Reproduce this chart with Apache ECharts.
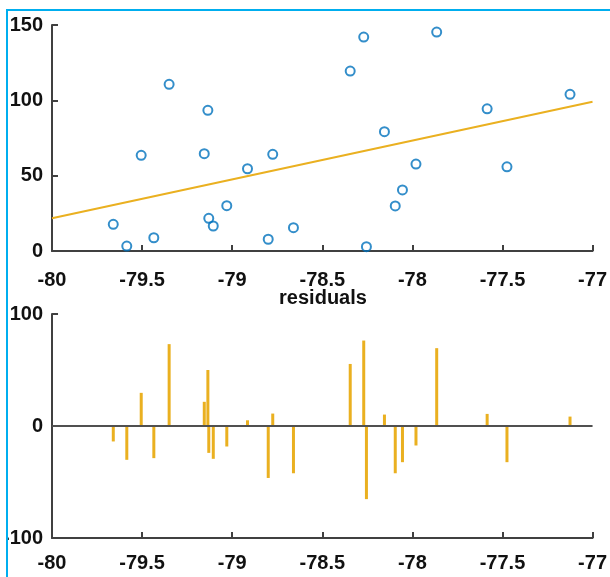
<!DOCTYPE html>
<html>
<head>
<meta charset="utf-8">
<title>Fit and residuals</title>
<script src="https://cdn.jsdelivr.net/npm/echarts@6/dist/echarts.min.js"></script>
<style>
  html, body { margin: 0; padding: 0; background: #fff; }
  #page { position: relative; width: 610px; height: 577px; overflow: hidden; }
  #frame {
    position: absolute; left: 6px; top: 9px; right: 0; bottom: 0;
    border-top: 2px solid #00AEEF; border-left: 2px solid #00AEEF;
    overflow: hidden;
  }
  #chart { position: absolute; left: -8px; top: -11px; width: 610px; height: 577px; }
</style>
</head>
<body>
<div id="page">
  <div id="frame"><div id="chart"></div></div>
</div>
<script>
// Observations (longitude vs. value)
const xValues = [-79.66, -79.585, -79.505, -79.435, -79.35, -79.155, -79.135, -79.13, -79.105, -79.03,
                 -78.915, -78.80, -78.775, -78.66, -78.345, -78.27, -78.255, -78.155, -78.095, -78.055,
                 -77.98, -77.865, -77.585, -77.475, -77.125];
const yValues = [17.7, 3.3, 63.5, 8.8, 110.6, 64.6, 93.4, 21.7, 16.6, 30.1,
                 54.6, 7.8, 64.2, 15.5, 119.4, 142.0, 2.9, 79.2, 29.9, 40.5,
                 57.7, 145.3, 94.4, 55.9, 104.0];
// Residuals of each observation from the fitted line
const residuals = [-13.8, -30.2, 29.6, -28.7, 73.1, 21.6, 50.0, -24.0, -29.3, -18.3,
                   5.1, -46.4, 11.1, -42.2, 55.4, 76.3, -65.3, 10.2, -42.2, -32.3,
                   -17.4, 69.5, 10.8, -32.3, 8.4];
// Fitted line end points
const fitX = [-80, -77];
const fitY = [21.7, 99.1];

const AXIS = '#404040';
const FONT = "'Liberation Sans', Arial, sans-serif";
const BLUE = '#0072BD';
const GOLD = '#EAB020';

const scatterData = xValues.map((x, i) => [x, yValues[i]]);
const fitData = fitX.map((x, i) => [x, fitY[i]]);
const stemData = xValues.map((x, i) => [x, residuals[i]]);

function xAxisCfg(gridIndex, margin) {
  return {
    type: 'value', gridIndex, min: -80, max: -77, interval: 0.5,
    axisLine: { onZero: false, lineStyle: { color: AXIS, width: 2 } },
    axisTick: { inside: true, length: 6, lineStyle: { color: AXIS, width: 2 } },
    axisLabel: { margin, fontFamily: FONT, fontWeight: 'bold', fontSize: 20, color: '#111' },
    splitLine: { show: false }
  };
}
function yAxisCfg(gridIndex, min, max, interval) {
  return {
    type: 'value', gridIndex, min, max, interval,
    axisLine: { show: true, onZero: false, lineStyle: { color: AXIS, width: 2 } },
    axisTick: { show: true, inside: true, length: 6, lineStyle: { color: AXIS, width: 2 } },
    axisLabel: { margin: 9, fontFamily: FONT, fontWeight: 'bold', fontSize: 20, color: '#111',
                 padding: [4, 0, 0, 0] },
    splitLine: { show: false }
  };
}

const chart = echarts.init(document.getElementById('chart'), null, { renderer: 'canvas' });
chart.setOption({
  animation: false,
  backgroundColor: '#fff',
  grid: [
    { left: 52, right: 15, top: 25, height: 226 },
    { left: 52, right: 15, top: 314, height: 224 }
  ],
  xAxis: [xAxisCfg(0, 19), xAxisCfg(1, 15)],
  yAxis: [yAxisCfg(0, 0, 150, 50), yAxisCfg(1, -100, 100, 100)],
  graphic: [{
    type: 'text', x: 323, y: 298,
    style: { text: 'residuals', fontFamily: FONT, fontWeight: 'bold', fontSize: 20,
             fill: '#111', textAlign: 'center', textVerticalAlign: 'middle' }
  }],
  series: [
    {
      type: 'scatter', xAxisIndex: 0, yAxisIndex: 0, data: scatterData,
      symbol: 'circle', symbolSize: 9,
      itemStyle: { color: 'rgba(255,255,255,0)', borderColor: BLUE, borderWidth: 2 },
      z: 3
    },
    {
      type: 'line', xAxisIndex: 0, yAxisIndex: 0, data: fitData,
      showSymbol: false, lineStyle: { color: GOLD, width: 2 }, z: 2
    },
    {
      type: 'custom', xAxisIndex: 1, yAxisIndex: 1, data: stemData,
      renderItem: function (params, api) {
        const base = api.coord([api.value(0), 0]);
        const tip = api.coord([api.value(0), api.value(1)]);
        return {
          type: 'line',
          shape: { x1: base[0], y1: base[1], x2: tip[0], y2: tip[1] },
          style: { stroke: GOLD, lineWidth: 3 }
        };
      },
      markLine: {
        silent: true, symbol: 'none', label: { show: false },
        lineStyle: { color: '#505050', width: 2, type: 'solid' },
        data: [{ yAxis: 0 }]
      },
      z: 3
    }
  ]
});
</script>
</body>
</html>
